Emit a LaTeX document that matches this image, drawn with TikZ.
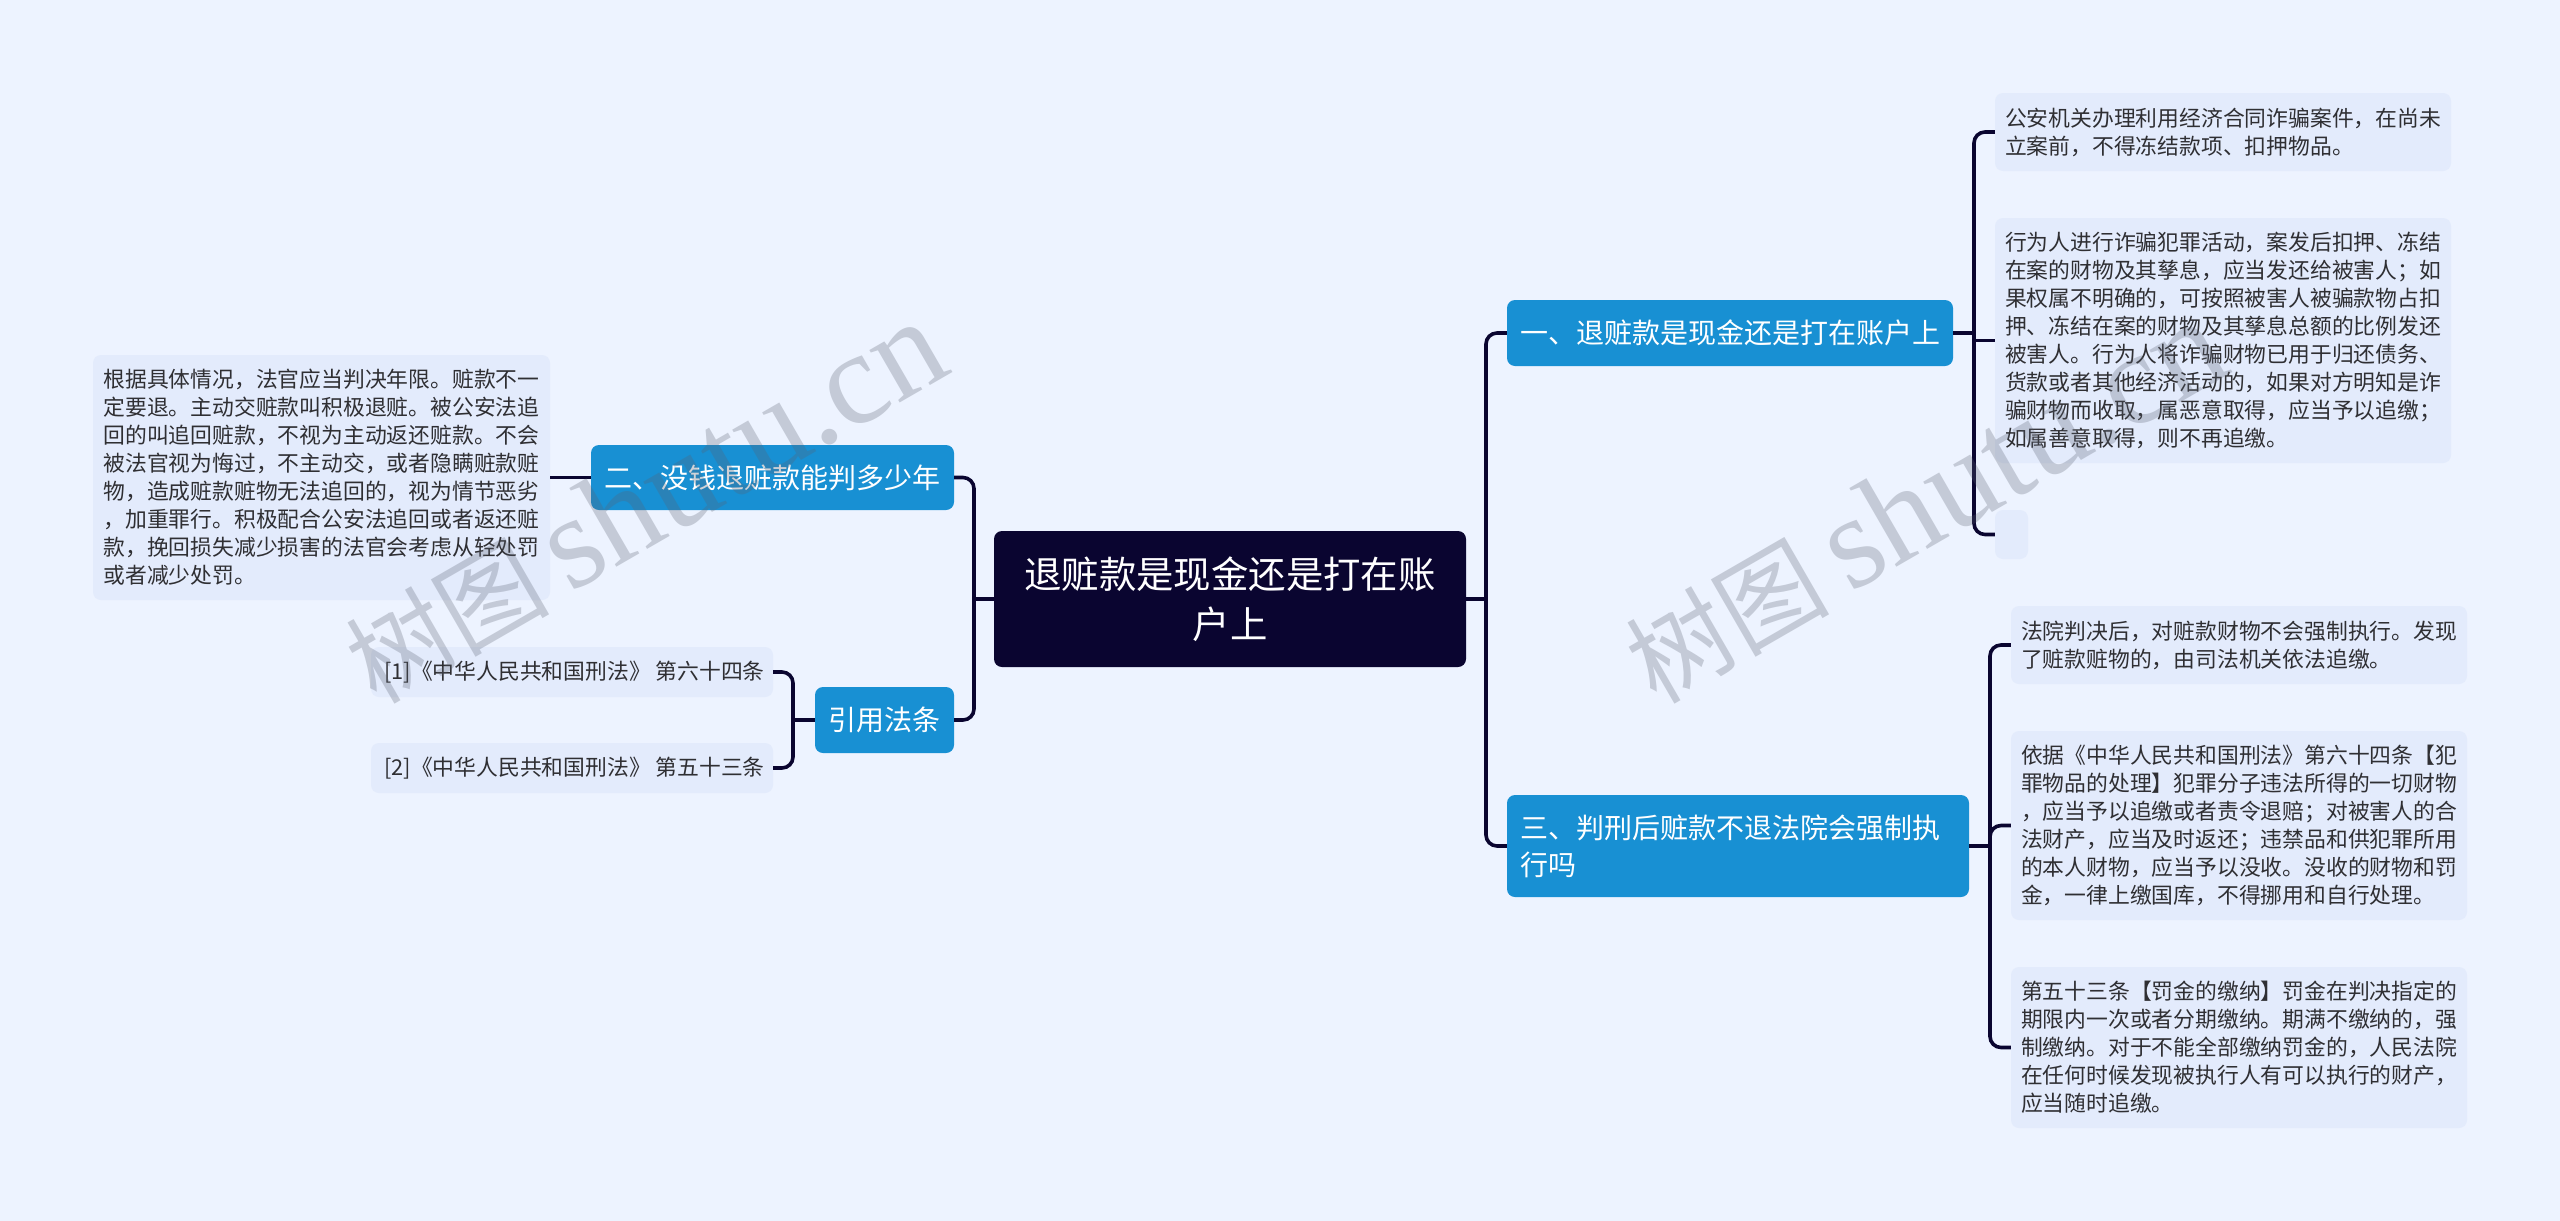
\documentclass[tikz,border=0pt]{standalone}
\usepackage{fontspec}
\setmainfont{Noto Sans CJK SC}
\newfontfamily\wmlatin{Liberation Serif}
\definecolor{bgc}{HTML}{EDF3FF}
\definecolor{leafc}{HTML}{E3EBFC}
\definecolor{bluec}{HTML}{1890D3}
\definecolor{darkc}{HTML}{0A0530}
\definecolor{textc}{HTML}{2F2F33}
\definecolor{wmc}{HTML}{5A6070}
\tikzset{
  boxbase/.style={rounded corners=8pt,inner sep=0pt,align=left,anchor=center},
  leaf/.style={boxbase,fill=leafc,text=textc,font=\fontsize{21.8}{28}\selectfont},
  topic/.style={boxbase,fill=bluec,text=white,font=\fontsize{28}{37}\selectfont},
  rootbox/.style={boxbase,fill=darkc,text=white,align=center,font=\fontsize{37.4}{50}\selectfont},
  conn/.style={draw=darkc,line width=3.6pt,rounded corners=11pt},
  wm/.style={text=wmc,text opacity=.28,rotate=30,anchor=base west,inner sep=0pt},
  size/.style 2 args={minimum width=#1pt,minimum height=#2pt}
}
\begin{document}
\begin{tikzpicture}[x=1pt,y=-1pt]
\useasboundingbox[fill=bgc] (0,0) rectangle (2560,1221);

\node[rootbox,size={472}{136}] (root) at (1230,599) {退赃款是现金还是打在账\\户上};

\node[topic,size={446}{66}] (one) at (1730,333) {一、退赃款是现金还是打在账户上};
\node[topic,size={462}{102},text width=436pt] (three) at (1738,846) {三、判刑后赃款不退法院会强制执\\行吗};
\node[topic,size={363}{65}] (two) at (772.5,477.5) {二、没钱退赃款能判多少年};
\node[topic,size={139}{66}] (ref) at (884.5,720) {引用法条};

\node[leaf,size={456}{78}] (a1) at (2223,132) {公安机关办理利用经济合同诈骗案件，在尚未\\立案前，不得冻结款项、扣押物品。};
\node[leaf,size={456}{245}] (a2) at (2223,340.5) {行为人进行诈骗犯罪活动，案发后扣押、冻结\\在案的财物及其孳息，应当发还给被害人；如\\果权属不明确的，可按照被害人被骗款物占扣\\押、冻结在案的财物及其孳息总额的比例发还\\被害人。行为人将诈骗财物已用于归还债务、\\货款或者其他经济活动的，如果对方明知是诈\\骗财物而收取，属恶意取得，应当予以追缴；\\如属善意取得，则不再追缴。};
\node[leaf,size={33}{49}] (a3) at (2011.5,534.5) {};

\node[leaf,size={456}{78}] (c1) at (2239,645) {法院判决后，对赃款财物不会强制执行。发现\\了赃款赃物的，由司法机关依法追缴。};
\node[leaf,size={456}{189}] (c2) at (2239,825.5) {依据《中华人民共和国刑法》第六十四条【犯\\罪物品的处理】犯罪分子违法所得的一切财物\\，应当予以追缴或者责令退赔；对被害人的合\\法财产，应当及时返还；违禁品和供犯罪所用\\的本人财物，应当予以没收。没收的财物和罚\\金，一律上缴国库，不得挪用和自行处理。};
\node[leaf,size={456}{161}] (c3) at (2239,1047.5) {第五十三条【罚金的缴纳】罚金在判决指定的\\期限内一次或者分期缴纳。期满不缴纳的，强\\制缴纳。对于不能全部缴纳罚金的，人民法院\\在任何时候发现被执行人有可以执行的财产，\\应当随时追缴。};

\node[leaf,size={457}{245}] (b1) at (321.5,477.5) {根据具体情况，法官应当判决年限。赃款不一\\定要退。主动交赃款叫积极退赃。被公安法追\\回的叫追回赃款，不视为主动返还赃款。不会\\被法官视为悔过，不主动交，或者隐瞒赃款赃\\物，造成赃款赃物无法追回的，视为情节恶劣\\，加重罪行。积极配合公安法追回或者返还赃\\款，挽回损失减少损害的法官会考虑从轻处罚\\或者减少处罚。};
\node[leaf,size={402}{50}] (r1) at (572,672) {\hspace*{5pt}[1]《中华人民共和国刑法》 第六十四条};
\node[leaf,size={402}{50}] (r2) at (572,768) {\hspace*{5pt}[2]《中华人民共和国刑法》 第五十三条};

% junctions
\coordinate (jr) at (1486,599);
\coordinate (jl) at (974,599);
\coordinate (ja) at (1974,333);
\coordinate (jc) at (1990,846);
\coordinate (jf) at (793,720);

% connectors
\draw[conn] (root.east) -- (jr);
\draw[conn] (one.west) -| (jr) |- (three.west);
\draw[conn] (root.west) -- (jl);
\draw[conn] (two.east) -| (jl) |- (ref.east);
\draw[conn] (two.west) -- (b1.east);
\draw[conn] (ref.west) -- (jf);
\draw[conn] (r1.east) -| (jf) |- (r2.east);
\draw[conn] (one.east) -- (ja);
\draw[conn] (a2.west) -- (ja |- a2.west);
\draw[conn] (a1.west) -| (ja) |- (a3.west);
\draw[conn] (three.east) -- (jc);
\draw[conn] (c2.west) -| (jc);
\draw[conn] (c1.west) -| (jc) |- (c3.west);

% watermarks
\node[wm] (w1) at (376,706) {\fontsize{102}{102}\selectfont 树图\hspace{0.2em}{\wmlatin\fontsize{132}{132}\selectfont shutu.cn}};
\node[wm] (w2) at (1656,706) {\fontsize{102}{102}\selectfont 树图\hspace{0.2em}{\wmlatin\fontsize{132}{132}\selectfont shutu.cn}};
\end{tikzpicture}
\end{document}
